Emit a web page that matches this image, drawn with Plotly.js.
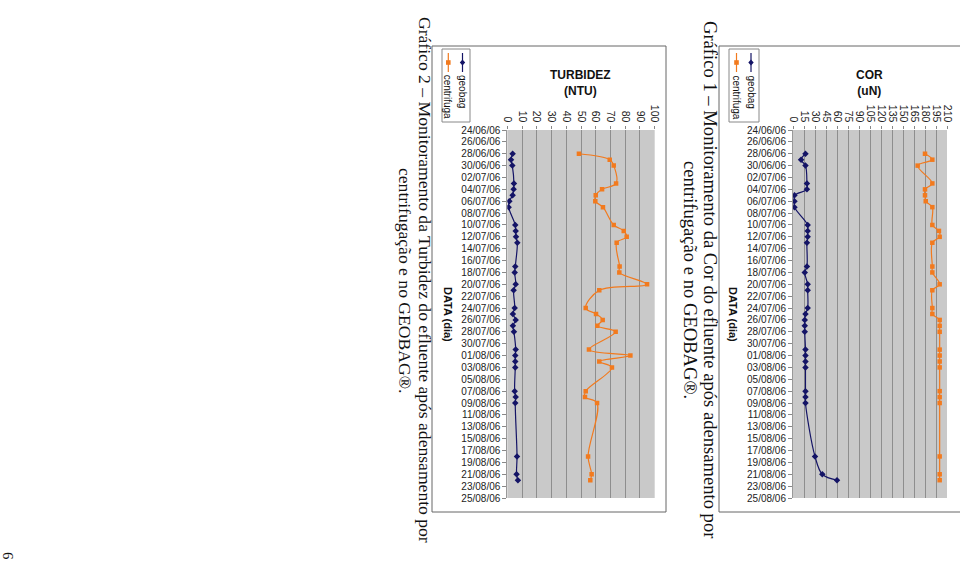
<!DOCTYPE html>
<html><head><meta charset="utf-8">
<script src="https://cdn.plot.ly/plotly-3.0.1.min.js"></script>
<style>html,body{margin:0;padding:0;background:#fff;} #chart{width:960px;height:566px;}</style>
</head><body><div id="chart"></div>
<script>
// ---- data ----
const dates = ['2006-06-28','2006-06-29','2006-06-30','2006-07-03','2006-07-04','2006-07-05','2006-07-06','2006-07-07',
  '2006-07-10','2006-07-11','2006-07-12','2006-07-13','2006-07-17','2006-07-18','2006-07-20','2006-07-21',
  '2006-07-24','2006-07-25','2006-07-26','2006-07-27','2006-07-28','2006-07-31','2006-08-01','2006-08-02','2006-08-03',
  '2006-08-07','2006-08-08','2006-08-09','2006-08-18','2006-08-21','2006-08-22'];
const corGeobag = [17,11,17,19,19,2,2,2,20,20,20,19,19,16,20,20,20,17,16,16,16,17,17,17,17,17,17,17,30,40,60];
const corCentrifuga = [180,190,170,190,180,180,181,190,190,199,200,190,190,190,200,190,190,190,200,200,200,200,200,200,200,200,200,200,200,200,200];
const turbGeobag = [3.6,2.5,3.4,4.5,4.3,3.6,1.4,0.9,5.4,5.7,5.9,6.8,5.4,5.0,5.7,4.3,5.0,3.8,5.7,3.8,4.5,5.7,5.4,5.4,5.4,5.0,5.7,5.4,6.6,6.3,7.2];
const turbCentrifuga = [48.6,69.5,72.2,73.8,64.3,60.0,59.7,64.9,72.2,79.0,81.0,74.2,76.2,76.0,94.8,62.4,53.2,60.2,64.7,61.1,73.5,55.4,83.5,62.4,71.0,53.2,52.7,60.9,54.8,57.2,56.3];
const seriesNames = ['geobag','centrifuga'];
const corTitle = 'COR<br>(uN)';
const turbTitle = 'TURBIDEZ<br>(NTU)';
const dateAxisTitle = 'DATA (dia)';
const caption1 = ['Gráfico 1 – Monitoramento da Cor do efluente após adensamento por','centrifugação e no GEOBAG®.'];
const caption2 = ['Gráfico 2 – Monitoramento da Turbidez do efluente após adensamento por','centrifugação e no GEOBAG®.'];
const pageNumber = '6';

// ---- styling ----
const W = 960, H = 566;
const px = x => x / W, py = y => 1 - y / H;
const NAVY = '#141466', ORANGE = '#f27a1e';
const SANS = 'Liberation Sans, Arial, sans-serif';
const SERIF = 'Liberation Serif, Times New Roman, serif';

function lineTrace(xs, name, color, symbol, size, xa, ya) {
  return {x: xs, y: dates, name: name, xaxis: xa, yaxis: ya, type: 'scatter', mode: 'lines+markers',
    line: {color: color, width: 1.2, shape: 'spline', smoothing: 1},
    marker: {symbol: symbol, size: size, color: color}, showlegend: false, hoverinfo: 'x+y+name'};
}
const traces = [
  lineTrace(corGeobag, seriesNames[0], NAVY, 'diamond', 5, 'x', 'y'),
  lineTrace(corCentrifuga, seriesNames[1], ORANGE, 'square', 4.5, 'x', 'y'),
  lineTrace(turbGeobag, seriesNames[0], NAVY, 'diamond', 5, 'x2', 'y2'),
  lineTrace(turbCentrifuga, seriesNames[1], ORANGE, 'square', 4.5, 'x2', 'y2')
];

function valAxis(dom, max, step, anchor) {
  return {domain: dom, range: [0, max], tick0: 0, dtick: step, side: 'top', tickangle: 90,
    showgrid: true, gridcolor: '#8e8e8e', gridwidth: 1, zeroline: false, showline: false,
    ticks: 'outside', ticklen: 3, tickcolor: '#888', anchor: anchor,
    tickfont: {family: SANS, size: 10.5, color: '#222'}, fixedrange: true};
}
function dateAxis(anchor) {
  return {domain: [py(498), py(130)], type: 'date', range: ['2006-08-25', '2006-06-24'],
    tick0: '2006-06-24', dtick: 2 * 86400000, tickformat: '%d/%m/%y', showgrid: false,
    showline: true, linecolor: '#999', ticks: 'outside', ticklen: 4, tickcolor: '#888',
    tickfont: {family: SANS, size: 10, color: '#222'}, anchor: anchor, fixedrange: true};
}

const shapes = [
  {type: 'rect', xref: 'paper', yref: 'paper', x0: px(719), x1: px(964), y0: py(46), y1: py(512), line: {color: '#666', width: 1}},
  {type: 'rect', xref: 'paper', yref: 'paper', x0: px(432), x1: px(666), y0: py(46), y1: py(512), line: {color: '#666', width: 1}}
];
const annotations = [];

function legend(bx0, bx1, xGeo, xCen) {
  shapes.push({type: 'rect', xref: 'paper', yref: 'paper', x0: px(bx0), x1: px(bx1), y0: py(49), y1: py(122), line: {color: '#888', width: 1}});
  [[xGeo, NAVY, seriesNames[0], 'd'], [xCen, ORANGE, seriesNames[1], 's']].forEach(([x, c, name, m]) => {
    shapes.push({type: 'line', xref: 'paper', yref: 'paper', x0: px(x), x1: px(x), y0: py(53), y1: py(72), line: {color: c, width: 1.2}});
    if (m === 'd') {
      shapes.push({type: 'path', xref: 'paper', yref: 'paper', fillcolor: c, line: {color: c, width: 0},
        path: `M ${px(x)} ${py(59.5)} L ${px(x + 2.7)} ${py(62.5)} L ${px(x)} ${py(65.5)} L ${px(x - 2.7)} ${py(62.5)} Z`});
    } else {
      shapes.push({type: 'rect', xref: 'paper', yref: 'paper', fillcolor: c, line: {color: c, width: 0},
        x0: px(x - 2.3), x1: px(x + 2.3), y0: py(60.2), y1: py(64.8)});
    }
    annotations.push({text: name, xref: 'paper', yref: 'paper', x: px(x), y: py(73), xanchor: 'center', yanchor: 'top',
      textangle: 90, showarrow: false, font: {family: SANS, size: 10, color: '#111'}});
  });
}
legend(729, 759, 751, 736.5);
legend(442, 470, 462.5, 448.3);

function title(text, x) {
  annotations.push({text: '<b>' + text + '</b>', xref: 'paper', yref: 'paper', x: px(x), y: py(83), xanchor: 'center', yanchor: 'middle',
    showarrow: false, font: {family: SANS, size: 12, color: '#111'}});
}
title(corTitle, 869);
title(turbTitle, 580);

function axTitle(x) {
  annotations.push({text: '<b>' + dateAxisTitle + '</b>', xref: 'paper', yref: 'paper', x: px(x), y: py(314), xanchor: 'center', yanchor: 'middle',
    textangle: 90, showarrow: false, font: {family: SANS, size: 11, color: '#111'}});
}
axTitle(733);
axTitle(448);

function caption(lines, x1, x2, size) {
  annotations.push({text: lines[0], xref: 'paper', yref: 'paper', x: px(x1), y: py(280), xanchor: 'center', yanchor: 'middle',
    textangle: 90, showarrow: false, font: {family: SERIF, size: size, color: '#111'}});
  annotations.push({text: lines[1], xref: 'paper', yref: 'paper', x: px(x2), y: py(280), xanchor: 'center', yanchor: 'middle',
    textangle: 90, showarrow: false, font: {family: SERIF, size: size, color: '#111'}});
}
caption(caption1, 711, 691, 18.6);
caption(caption2, 425, 405, 17.6);

annotations.push({text: pageNumber, xref: 'paper', yref: 'paper', x: px(8), y: py(556), xanchor: 'center', yanchor: 'middle',
  textangle: 90, showarrow: false, font: {family: SERIF, size: 15, color: '#111'}});

const layout = {
  width: W, height: H, margin: {l: 0, r: 0, t: 0, b: 0}, autosize: false,
  paper_bgcolor: '#ffffff', plot_bgcolor: '#c9c9c9', showlegend: false,
  xaxis: valAxis([px(793), px(947)], 210, 15, 'y'),
  yaxis: dateAxis('x'),
  xaxis2: valAxis([px(507.3), px(654.7)], 100, 10, 'y2'),
  yaxis2: dateAxis('x2'),
  shapes: shapes, annotations: annotations
};
Plotly.newPlot('chart', traces, layout, {displayModeBar: false, staticPlot: true});
</script></body></html>
